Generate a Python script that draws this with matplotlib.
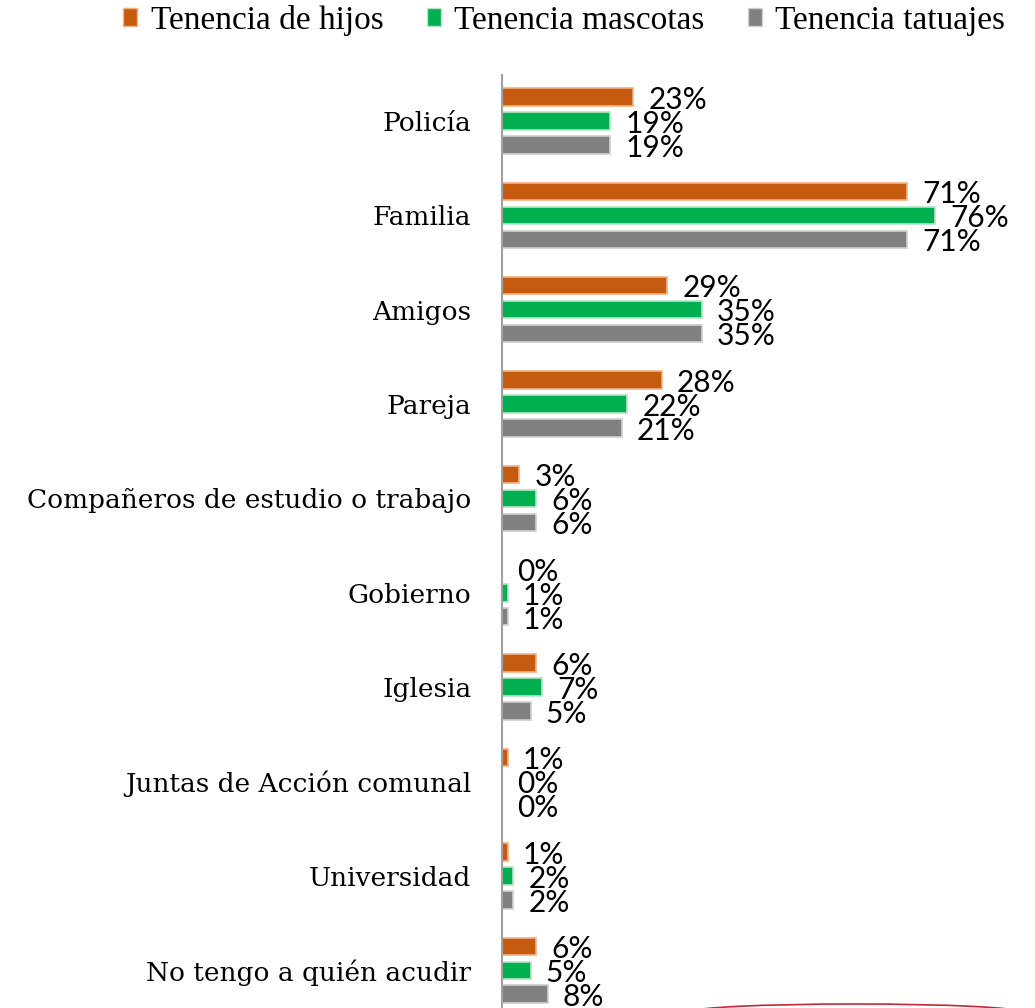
import numpy as np
import matplotlib.pyplot as plt
from matplotlib.patches import Patch, Arc

categorias = ['Policía', 'Familia', 'Amigos', 'Pareja',
              'Compañeros de estudio o trabajo', 'Gobierno', 'Iglesia',
              'Juntas de Acción comunal', 'Universidad', 'No tengo a quién acudir']
hijos = [23, 71, 29, 28, 3, 0, 6, 1, 1, 6]
mascotas = [19, 76, 35, 22, 6, 1, 7, 0, 2, 5]
tatuajes = [19, 71, 35, 21, 6, 1, 5, 0, 2, 8]

series = [('Tenencia de hijos', hijos, '#C55A11', '#F4B183'),
          ('Tenencia mascotas', mascotas, '#00B050', '#B7E4C7'),
          ('Tenencia tatuajes', tatuajes, '#808080', '#D0D0D0')]

fig = plt.figure(figsize=(10.35, 10.08), dpi=100)
ax = fig.add_axes([502 / 1035, 0, 1 - 502 / 1035, 933 / 1008])

y = np.arange(len(categorias))
offsets = [-0.254, 0.0, 0.254]
for (nombre, vals, color, borde), off in zip(series, offsets):
    ax.barh(y + off, vals, height=0.185, color=color, edgecolor=borde,
            linewidth=1.2, label=nombre)
    for yi, v in zip(y + off, vals):
        ax.annotate(f'{v}%', (v, yi), xytext=(11, -2), textcoords='offset points',
                    va='center', ha='left', fontsize=21.5, family='Lato')

ax.set_xlim(0, 533 / 5.7)
ax.set_ylim(9.40, -0.487)
ax.set_yticks(y)
ax.set_yticklabels(categorias, fontsize=19, family='DejaVu Serif')
ax.tick_params(axis='y', length=0, pad=22)
ax.set_xticks([])
for s in ['top', 'right', 'bottom']:
    ax.spines[s].set_visible(False)
ax.spines['left'].set_color('#A0A0A0')
ax.spines['left'].set_linewidth(1.5)

handles = [Patch(facecolor=c, edgecolor=b) for _, _, c, b in series]
fig.legend(handles, [s[0] for s in series], loc='upper right',
           bbox_to_anchor=(1.0, 1.025), ncol=3, frameon=False,
           prop={'family': 'Liberation Serif', 'size': 24},
           handlelength=0.42, handleheight=0.42, handletextpad=0.4,
           columnspacing=1.3)

# trazo rojo decorativo al pie
fig.add_artist(Arc((855 / 1035, -4 / 1008), 330 / 1035, 16 / 1008,
                   theta1=0, theta2=180, color='#C0283C', linewidth=1.2,
                   transform=fig.transFigure))

fig.savefig('out.png', dpi=100)
